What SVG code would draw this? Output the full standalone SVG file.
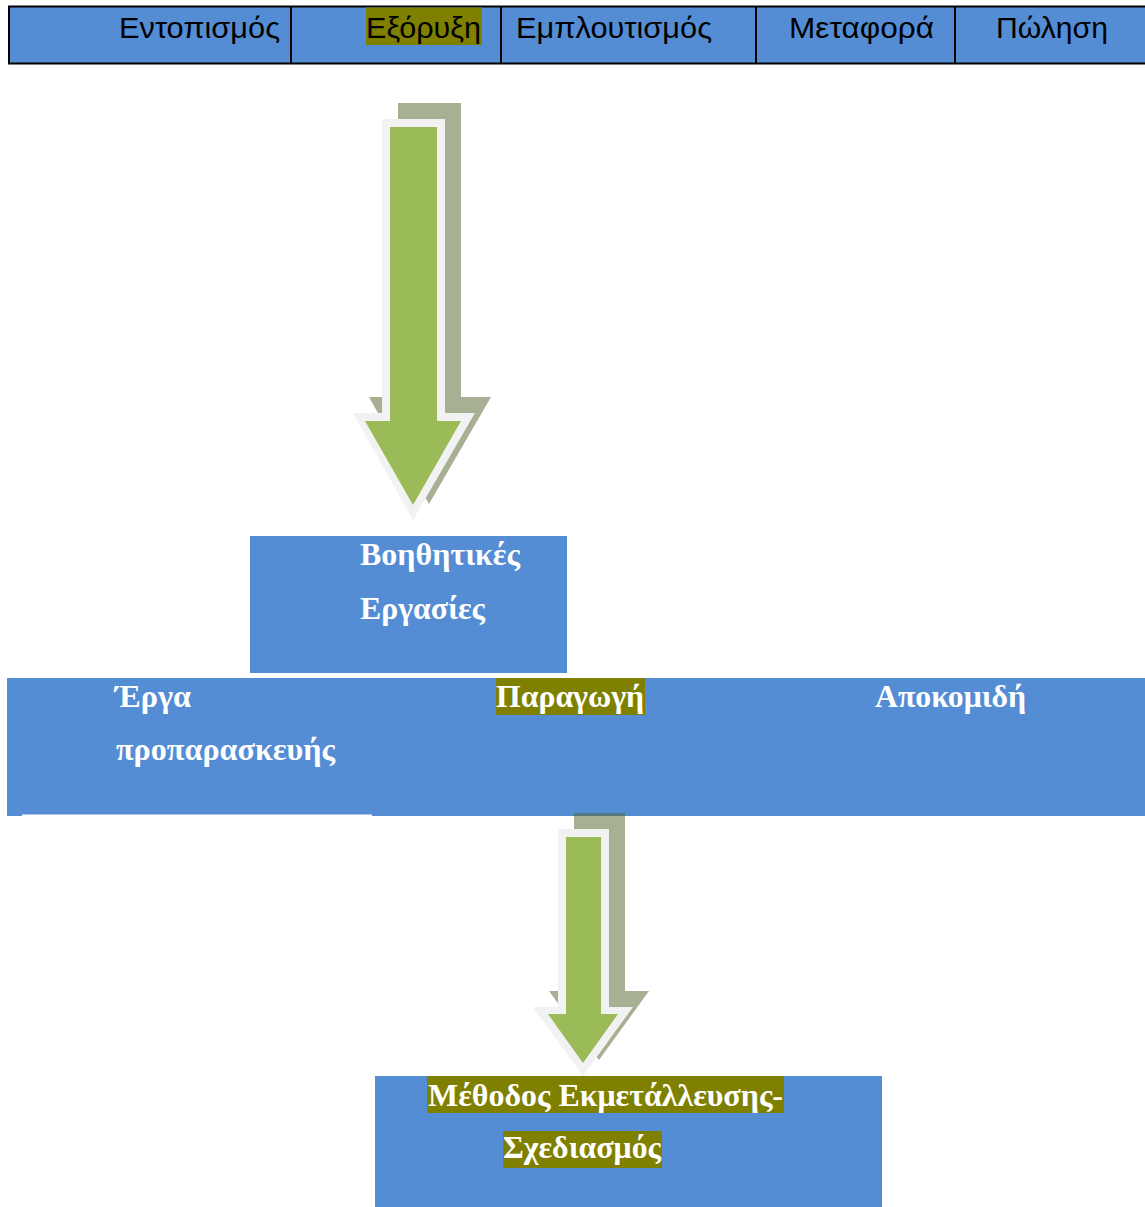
<svg xmlns="http://www.w3.org/2000/svg" width="1145" height="1207" viewBox="0 0 1145 1207">
<style>
.blue{fill:#548dd4}
.hl{fill:#808000}
.tab{font-family:"Liberation Sans","DejaVu Sans",sans-serif;font-size:30px;fill:#000}
.ser{font-family:"Liberation Serif","DejaVu Serif",serif;font-size:31px;font-weight:bold;fill:#fff}
.shadow{fill:#4f6228;fill-opacity:0.5}
.outline{fill:#f2f2f2}
.green{fill:#9bbb59}
</style>
<rect width="1145" height="1207" fill="#fff"/>
<g id="top-bar">
<rect x="9" y="6.5" width="1146" height="57" class="blue" stroke="#000" stroke-width="2"/>
<line x1="291" y1="6" x2="291" y2="64" stroke="#000" stroke-width="2"/>
<line x1="501" y1="6" x2="501" y2="64" stroke="#000" stroke-width="2"/>
<line x1="756" y1="6" x2="756" y2="64" stroke="#000" stroke-width="2"/>
<line x1="955" y1="6" x2="955" y2="64" stroke="#000" stroke-width="2"/>
<g id="entopismos"><text class="tab" x="119" y="38" textLength="161" lengthAdjust="spacingAndGlyphs">Εντοπισμός</text></g>
<g id="exoryxi"><rect x="366" y="7.5" width="116" height="37.5" class="hl"/><text class="tab" x="366" y="38" textLength="115" lengthAdjust="spacingAndGlyphs">Εξόρυξη</text></g>
<g id="emploutismos"><text class="tab" x="516" y="38" textLength="196" lengthAdjust="spacingAndGlyphs">Εμπλουτισμός</text></g>
<g id="metafora"><text class="tab" x="789" y="38" textLength="145" lengthAdjust="spacingAndGlyphs">Μεταφορά</text></g>
<g id="polisi"><text class="tab" x="996" y="38" textLength="112" lengthAdjust="spacingAndGlyphs">Πώληση</text></g>
</g>
<g id="boithitikes">
<rect x="250" y="536" width="317" height="137" class="blue"/>
<text class="ser" x="360" y="565" textLength="160" lengthAdjust="spacingAndGlyphs">Βοηθητικές</text>
<text class="ser" x="360" y="619" textLength="125" lengthAdjust="spacingAndGlyphs">Εργασίες</text>
</g>
<g id="main-bar">
<rect x="7" y="678" width="1138" height="138" class="blue"/>
<rect x="22" y="814.5" width="350" height="1.5" fill="#fff"/>
<g id="erga"><text class="ser" x="115" y="707" textLength="76" lengthAdjust="spacingAndGlyphs">Έργα</text>
<text class="ser" x="116" y="760" textLength="219" lengthAdjust="spacingAndGlyphs">προπαρασκευής</text></g>
<g id="paragogi"><rect x="496" y="678" width="149" height="37" class="hl"/><text class="ser" x="496" y="707" textLength="148" lengthAdjust="spacingAndGlyphs">Παραγωγή</text></g>
<g id="apokomidi"><text class="ser" x="875" y="707" textLength="151" lengthAdjust="spacingAndGlyphs">Αποκομιδή</text></g>
</g>
<g id="connectors">
<g id="arrow1">
<polygon class="shadow" points="398,103 461,103 461,397 491,397 429,504 369,397 398,397"/>
<polygon class="outline" points="382,119 445,119 445,413 475,413 413,520 353,413 382,413"/>
<polygon class="green" points="390,127 437,127 437,421 461,421 413,505 365,421 390,421"/>
</g>
<g id="arrow2">
<polygon class="shadow" points="574,813 625,813 625,991 649,991 599,1060 549,991 574,991"/>
<polygon class="outline" points="558,829 609,829 609,1007 633,1007 583,1076 533,1007 558,1007"/>
<polygon class="green" points="566,837 601,837 601,1014 618,1014 583,1063 548,1014 566,1014"/>
</g>
</g>
<g id="methodos">
<rect x="375" y="1076" width="507" height="131" class="blue"/>
<rect x="427" y="1076" width="357" height="37" class="hl"/>
<text class="ser" x="428" y="1106" textLength="355" lengthAdjust="spacingAndGlyphs">Μέθοδος Εκμετάλλευσης-</text>
<rect x="503" y="1131" width="159" height="37" class="hl"/>
<text class="ser" x="503" y="1158" textLength="158" lengthAdjust="spacingAndGlyphs">Σχεδιασμός</text>
</g>
</svg>
